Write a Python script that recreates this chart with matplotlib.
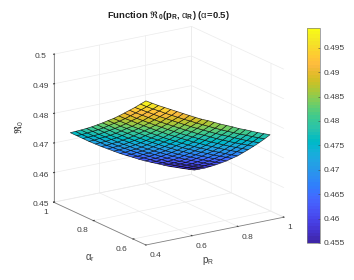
import numpy as np
import matplotlib
matplotlib.use('Agg')
import matplotlib.pyplot as plt
from matplotlib.colors import ListedColormap, Normalize
from matplotlib.cm import ScalarMappable

plt.rcParams['font.family'] = ['Liberation Sans', 'DejaVu Sans']
plt.rcParams['mathtext.fontset'] = 'custom'
plt.rcParams['mathtext.rm'] = 'Liberation Sans'
plt.rcParams['mathtext.it'] = 'Liberation Sans'
plt.rcParams['mathtext.bf'] = 'Liberation Sans:bold'
plt.rcParams['mathtext.fallback'] = 'stix'

TEXT = '#404040'

p_r = [0.400, 0.427, 0.454, 0.481, 0.508, 0.535, 0.562, 0.589, 0.616, 0.643, 0.670,
       0.697, 0.724, 0.751, 0.778, 0.805, 0.832, 0.859, 0.886, 0.913, 0.940]
alpha_r = [0.535, 0.562, 0.590, 0.617, 0.644, 0.671, 0.698, 0.726,
           0.753, 0.780, 0.807, 0.834, 0.862, 0.889, 0.916]

# one row per alpha_r, one column per p_r
r0 = [
    [.4987, .4975, .4963, .4952, .4941, .4930, .4919, .4908, .4897, .4887, .4878, .4868, .4858, .4849, .4840, .4830, .4822, .4813, .4804, .4796, .4788],
    [.4968, .4955, .4943, .4932, .4920, .4909, .4898, .4887, .4877, .4866, .4856, .4846, .4836, .4826, .4817, .4808, .4799, .4791, .4782, .4774, .4766],
    [.4948, .4936, .4924, .4912, .4900, .4889, .4878, .4867, .4856, .4845, .4835, .4825, .4815, .4805, .4796, .4787, .4778, .4769, .4760, .4752, .4744],
    [.4930, .4917, .4905, .4893, .4881, .4869, .4858, .4847, .4836, .4825, .4815, .4804, .4795, .4785, .4775, .4766, .4757, .4748, .4740, .4732, .4724],
    [.4912, .4899, .4886, .4874, .4862, .4850, .4839, .4827, .4816, .4805, .4795, .4785, .4775, .4765, .4755, .4746, .4737, .4728, .4720, .4712, .4704],
    [.4894, .4881, .4869, .4856, .4844, .4832, .4820, .4809, .4797, .4787, .4776, .4766, .4755, .4746, .4736, .4727, .4718, .4709, .4701, .4693, .4685],
    [.4877, .4864, .4851, .4838, .4826, .4814, .4802, .4791, .4779, .4768, .4758, .4747, .4737, .4727, .4718, .4709, .4699, .4691, .4682, .4674, .4666],
    [.4861, .4848, .4834, .4822, .4809, .4797, .4785, .4773, .4762, .4751, .4740, .4730, .4719, .4710, .4700, .4691, .4682, .4673, .4665, .4657, .4649],
    [.4845, .4832, .4818, .4805, .4793, .4780, .4768, .4756, .4745, .4734, .4723, .4713, .4702, .4693, .4683, .4674, .4665, .4656, .4648, .4640, .4632],
    [.4830, .4816, .4803, .4789, .4777, .4764, .4752, .4740, .4729, .4718, .4707, .4696, .4686, .4676, .4667, .4658, .4649, .4640, .4632, .4624, .4617],
    [.4815, .4801, .4788, .4774, .4761, .4749, .4737, .4725, .4713, .4702, .4691, .4681, .4671, .4661, .4651, .4642, .4634, .4625, .4617, .4609, .4602],
    [.4801, .4787, .4773, .4760, .4747, .4734, .4722, .4710, .4698, .4687, .4676, .4666, .4656, .4646, .4636, .4627, .4619, .4610, .4602, .4595, .4588],
    [.4787, .4773, .4759, .4746, .4732, .4720, .4708, .4696, .4684, .4673, .4662, .4652, .4641, .4632, .4622, .4613, .4605, .4597, .4589, .4581, .4574],
    [.4774, .4759, .4746, .4732, .4719, .4706, .4694, .4682, .4670, .4659, .4648, .4638, .4628, .4618, .4609, .4600, .4592, .4584, .4576, .4569, .4562],
    [.4761, .4747, .4733, .4719, .4706, .4693, .4681, .4669, .4657, .4646, .4636, .4625, .4615, .4606, .4597, .4588, .4579, .4572, .4564, .4557, .4550],
]

p_ticks = [0.4, 0.6, 0.8, 1]
p_labels = ['0.4', '0.6', '0.8', '1']
alpha_ticks = [0.6, 0.8, 1]
alpha_labels = ['0.6', '0.8', '1']
z_ticks = [0.45, 0.46, 0.47, 0.48, 0.49, 0.5]
z_labels = ['0.45', '0.46', '0.47', '0.48', '0.49', '0.5']
cbar_ticks = [0.455, 0.46, 0.465, 0.47, 0.475, 0.48, 0.485, 0.49, 0.495]
cbar_labels = ['0.455', '0.46', '0.465', '0.47', '0.475', '0.48', '0.485', '0.49', '0.495']

parula = ListedColormap([
    (0.2422, 0.1504, 0.6603), (0.2504, 0.1650, 0.7076), (0.2578, 0.1818, 0.7511), (0.2647, 0.1978, 0.7952),
    (0.2706, 0.2147, 0.8364), (0.2751, 0.2342, 0.8710), (0.2783, 0.2559, 0.8991), (0.2803, 0.2782, 0.9221),
    (0.2813, 0.3006, 0.9414), (0.2810, 0.3228, 0.9579), (0.2795, 0.3447, 0.9717), (0.2760, 0.3667, 0.9829),
    (0.2699, 0.3892, 0.9906), (0.2602, 0.4123, 0.9952), (0.2440, 0.4358, 0.9988), (0.2206, 0.4603, 0.9973),
    (0.1963, 0.4847, 0.9892), (0.1834, 0.5074, 0.9798), (0.1786, 0.5289, 0.9682), (0.1764, 0.5499, 0.9520),
    (0.1687, 0.5703, 0.9359), (0.1540, 0.5902, 0.9218), (0.1460, 0.6091, 0.9079), (0.1380, 0.6276, 0.8973),
    (0.1248, 0.6459, 0.8883), (0.1113, 0.6635, 0.8763), (0.0952, 0.6798, 0.8598), (0.0689, 0.6948, 0.8394),
    (0.0297, 0.7082, 0.8163), (0.0036, 0.7203, 0.7917), (0.0067, 0.7312, 0.7660), (0.0433, 0.7411, 0.7394),
    (0.0964, 0.7500, 0.7120), (0.1408, 0.7584, 0.6842), (0.1717, 0.7670, 0.6554), (0.1938, 0.7758, 0.6251),
    (0.2161, 0.7843, 0.5923), (0.2470, 0.7918, 0.5567), (0.2906, 0.7973, 0.5188), (0.3406, 0.8008, 0.4789),
    (0.3909, 0.8029, 0.4354), (0.4456, 0.8024, 0.3909), (0.5044, 0.7993, 0.3480), (0.5616, 0.7942, 0.3045),
    (0.6174, 0.7876, 0.2612), (0.6720, 0.7793, 0.2227), (0.7242, 0.7698, 0.1910), (0.7738, 0.7598, 0.1646),
    (0.8203, 0.7498, 0.1535), (0.8634, 0.7406, 0.1596), (0.9035, 0.7330, 0.1774), (0.9393, 0.7288, 0.2100),
    (0.9728, 0.7298, 0.2394), (0.9956, 0.7434, 0.2371), (0.9970, 0.7659, 0.2199), (0.9952, 0.7893, 0.2028),
    (0.9892, 0.8136, 0.1885), (0.9786, 0.8386, 0.1766), (0.9676, 0.8639, 0.1643), (0.9610, 0.8890, 0.1537),
    (0.9597, 0.9135, 0.1423), (0.9628, 0.9373, 0.1265), (0.9691, 0.9606, 0.1064), (0.9769, 0.9839, 0.0805),
])

fig = plt.figure(figsize=(3.54, 2.8), dpi=100)
ax = fig.add_axes([14.5 / 354, 0.5 / 280, 0.85, 1.0], projection='3d', proj_type='ortho')
ax.view_init(elev=17.8, azim=236.6)
ax.set_box_aspect((166.4, 168.9, 156.5), zoom=0.978)
ax.patch.set_alpha(0)

norm = Normalize(0.455, 0.4991)
P, A = np.meshgrid(p_r, alpha_r)
ax.plot_surface(P, A, np.array(r0), cmap=parula, norm=norm, rstride=1, cstride=1,
                shade=False, edgecolor=(0, 0, 0, 0.8), linewidth=0.45, antialiased=True)

ax.set_xlim(0.4, 1)
ax.set_ylim(0.535, 1)
ax.set_zlim(0.45, 0.5)
ax.set_xticks(p_ticks, p_labels)
ax.set_yticks(alpha_ticks, alpha_labels)
ax.set_zticks(z_ticks, z_labels)
ax.tick_params(labelsize=6, colors=TEXT, pad=-2, length=2, width=0.4)
ax.tick_params(axis='x', pad=-4)
ax.tick_params(axis='y', pad=-4)

# mplot3d only has a radial pad, so shift sideways with the alignment
for lab in ax.xaxis.get_ticklabels():
    lab.set_ha('left')
for lab in ax.yaxis.get_ticklabels():
    lab.set_ha('right')

for axis in (ax.xaxis, ax.yaxis, ax.zaxis):
    axis.set_pane_color((1, 1, 1, 0))
    axis.pane.set_edgecolor((1, 1, 1, 0))
    axis.line.set_color('#808080')
    axis.line.set_linewidth(0.6)
    axis._axinfo['grid'].update(color='#ebebeb', linewidth=0.5)
    axis._axinfo['tick'].update(inward_factor=0.0, outward_factor=0.08)

fig.text(168 / 354, 1 - 16 / 280, r'Function $\Re_{\mathbf{0}}$($\mathbf{p_R}$, $\alpha_{\mathbf{R}}$) ($\alpha$=0.5)',
         ha='center', va='center', fontsize=6.8, fontweight='bold', color='#202020')
fig.text(208 / 354, 1 - 261 / 280, r'$\mathrm{p_R}$', ha='center', va='center', fontsize=7, color=TEXT)
fig.text(90 / 354, 1 - 258 / 280, r'$\alpha_{\mathrm{r}}$', ha='center', va='center', fontsize=7, color=TEXT)
fig.text(19 / 354, 1 - 127 / 280, r'$\Re_{\mathrm{0}}$', ha='center', va='center', rotation=90, fontsize=7, color=TEXT)

cax = fig.add_axes([307 / 354, 1 - 243 / 280, 13 / 354, 215.3 / 280])
cbar = fig.colorbar(ScalarMappable(norm=norm, cmap=parula), cax=cax)
cbar.set_ticks(cbar_ticks, labels=cbar_labels)
cbar.ax.tick_params(labelsize=6, colors=TEXT, length=1.5, width=0.4, direction='in', pad=2.5)
cbar.outline.set_edgecolor('#808080')
cbar.outline.set_linewidth(0.5)

fig.savefig('out.png', dpi=100)
